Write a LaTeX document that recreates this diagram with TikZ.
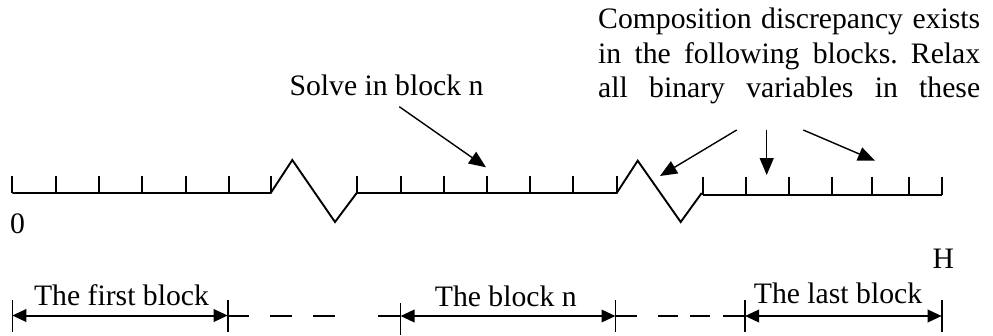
\documentclass[tikz,border=0pt]{standalone}
\usepackage{fontspec}
\setmainfont{Liberation Serif}
\usetikzlibrary{arrows.meta}
\frenchspacing
\begin{document}
\begin{tikzpicture}[x=1pt,y=-1pt,
  axis/.style={line width=1.9pt},
  tick/.style={line width=1.9pt},
  lead/.style={line width=1.4pt,-{Triangle[length=17pt,width=14pt]}},
  dimarrow/.style={line width=2pt,{Triangle[length=14pt,width=12.5pt]}-{Triangle[length=14pt,width=12.5pt]}},
  dimbar/.style={line width=1.6pt},
  gap/.style={line width=2pt},
  lbl/.style={inner sep=0pt,font=\fontsize{29.7}{34}\selectfont},
  ]
\useasboundingbox (0,0) rectangle (993,335);

% time axis with breaks
\draw[axis] (12.3,193) -- (270.7,193) -- (292.3,160) -- (335,222) -- (356.7,193)
  -- (616.7,193) -- (637.7,160.7) -- (680.7,222) -- (701.7,193);
\draw[axis] (703.3,195) -- (941.7,195);
\foreach \x in {12.3,55.7,99,142.3,185.7,229,270.7,357.3,400.7,444,487,530.3,573.3,616.7}
  \draw[tick] (\x,176) -- (\x,193);
\foreach \x in {703.3,746,789,831.7,872.3,909,941.7}
  \draw[tick] (\x,176.7) -- (\x,195);

\node[lbl,anchor=base] (zero) at (17.5,233) {0};
\node[lbl,anchor=base] (H) at (943.3,268) {H};

% top labels
\node[lbl,anchor=base] (solve) at (386.5,95) {Solve in block n};
\node[lbl,anchor=base west] (c1) at (598,28) {\makebox[382pt][s]{Composition discrepancy exists}};
\node[lbl,anchor=base west] (c2) at (598,63) {\makebox[382pt][s]{in the following blocks. Relax}};
\node[lbl,anchor=base west] (c3) at (598,97) {\makebox[382pt][s]{all binary variables in these}};

\coordinate (s0) at (399.3,106.7);
\coordinate (s1) at (486,167.3);
\draw[lead] (s0) -- (s1);
\coordinate (a0) at (736.7,130);
\coordinate (a1) at (660,176);
\coordinate (b0) at (766.7,130);
\coordinate (b1) at (766.7,175);
\coordinate (d0) at (803.3,130);
\coordinate (d1) at (875,160.7);
\draw[lead] (a0) -- (a1);
\draw[lead] (b0) -- (b1);
\draw[lead] (d0) -- (d1);

% bottom dimension row
\coordinate (p1) at (12.3,315.5);
\coordinate (p2) at (227.7,315.5);
\coordinate (p3) at (400.5,316);
\coordinate (p4) at (615.5,316);
\coordinate (p5) at (745,316);
\coordinate (p6) at (941.7,316);
\draw[dimbar] (12.3,300) -- (12.3,332);
\draw[dimbar] (227.7,300) -- (227.7,332);
\draw[dimbar] (400.5,303) -- (400.5,335);
\draw[dimbar] (615.5,300) -- (615.5,332);
\draw[dimbar] (745,300) -- (745,332);
\draw[dimbar] (941.7,300) -- (941.7,332);
\draw[dimarrow] (p1) -- (p2);
\draw[dimarrow] (p3) -- (p4);
\draw[dimarrow] (p5) -- (p6);
\draw[gap] (227.7,315.5) -- (249.3,315.5) (270,315.5) -- (291.7,315.5)
  (313.3,315.5) -- (335,315.5) (378.3,315.5) -- (400.5,315.5);
\draw[gap] (615.5,316) -- (636.7,316) (658.3,316) -- (678.3,316)
  (690,316) -- (710,316) (723.3,316) -- (745,316);

\node[lbl,anchor=base] (first) at (121.5,305) {The first block};
\node[lbl,anchor=base] (blockn) at (505.8,306) {The block n};
\node[lbl,anchor=base] (last) at (838,303) {The last block};
\end{tikzpicture}
\end{document}
